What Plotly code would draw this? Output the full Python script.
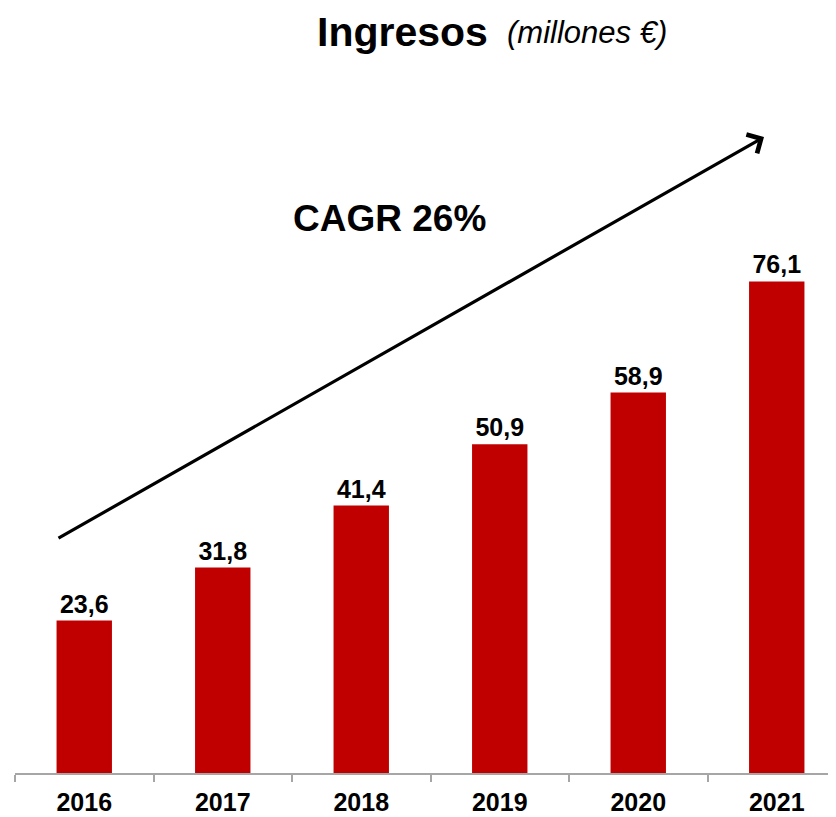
import plotly.graph_objects as go

years = ["2016", "2017", "2018", "2019", "2020", "2021"]
ingresos = [23.6, 31.8, 41.4, 50.9, 58.9, 76.1]
labels = ["23,6", "31,8", "41,4", "50,9", "58,9", "76,1"]

FONT = "Liberation Sans, Arial, sans-serif"
RED = "#C00000"

fig = go.Figure()
fig.add_trace(go.Bar(
    x=years, y=ingresos, text=["<b>" + s + "</b>" for s in labels], textposition="outside",
    textfont=dict(family=FONT, size=25, color="black"),
    marker=dict(color=RED, line=dict(width=0)),
    width=0.4, cliponaxis=False, hoverinfo="skip",
))

OFF = 8  # page body margin
W, H = 836, 817
L = 15 - OFF
T = 100 - OFF
B = H - (773 - OFF)
R = 0
pw, ph = W - L - R, H - T - B
pxu = 6.46
span = pw / 138.5

fig.update_layout(
    width=W, height=H,
    margin=dict(l=L, r=R, t=T, b=B),
    plot_bgcolor="white", paper_bgcolor="white",
    showlegend=False,
    font=dict(family=FONT, color="black"),
    xaxis=dict(
        type="category", range=[-0.5, -0.5 + span],
        showline=True, linecolor="#A6A6A6", linewidth=2,
        ticks="outside", tickson="boundaries", ticklen=7, tickcolor="#A6A6A6", tickwidth=2,
        tickfont=dict(family=FONT, size=25, color="black"),
        tickprefix="<b>", ticksuffix="</b>", ticklabelstandoff=6,
        showgrid=False, zeroline=False,
    ),
    yaxis=dict(range=[0, ph / pxu], visible=False, showgrid=False, zeroline=False),
)

def px_x(x):
    return (x - OFF - L) / pw

def px_y(y):
    return (H - B - (y - OFF)) / ph

fig.add_annotation(
    x=px_x(764), y=px_y(137), xref="paper", yref="paper",
    ax=57 - 764, ay=539 - 137, axref="pixel", ayref="pixel",
    text="", showarrow=True, arrowhead=4, arrowsize=1.3, arrowwidth=3.2,
    arrowcolor="black", standoff=0,
)
fig.add_annotation(
    x=px_x(389), y=px_y(218), xref="paper", yref="paper",
    text="<b>CAGR 26%</b>", showarrow=False,
    font=dict(family=FONT, size=37, color="black"),
    xanchor="center", yanchor="middle",
)
fig.add_annotation(
    x=px_x(316), y=px_y(OFF), xref="paper", yref="paper",
    text="<b>Ingresos</b>", showarrow=False, borderpad=0,
    font=dict(family=FONT, size=41, color="black"),
    xanchor="left", yanchor="top",
)
fig.add_annotation(
    x=px_x(505), y=px_y(33), xref="paper", yref="paper",
    text="<i>(millones €)</i>", showarrow=False,
    font=dict(family=FONT, size=31, color="black"),
    xanchor="left", yanchor="middle",
)

fig.write_html("out.html")
